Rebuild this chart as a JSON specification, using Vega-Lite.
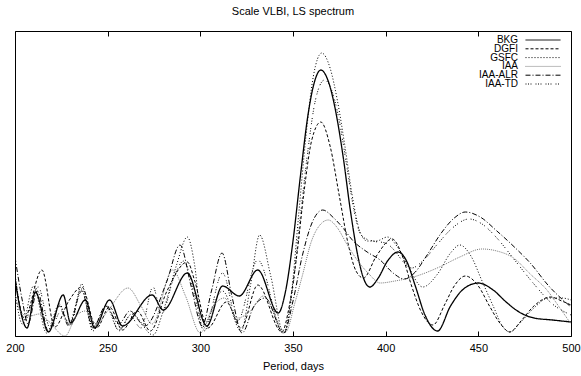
{
  "$schema": "https://vega.github.io/schema/vega-lite/v6.json",
  "width": 556,
  "height": 305,
  "autosize": "none",
  "padding": {"left": 15, "top": 31, "right": 10, "bottom": 40},
  "background": "white",
  "title": {"text": "Scale VLBI, LS spectrum", "fontSize": 11, "font": "Liberation Sans", "fontWeight": "normal", "color": "black", "offset": 14},
  "config": {"view": {"stroke": "black", "strokeWidth": 1}, "axis": {"grid": false}, "font": "Liberation Sans"},
  "datasets": {
    "s": [
      {"s":"BKG","d":200,"v":56},{"s":"BKG","d":206.5,"v":8},{"s":"BKG","d":211,"v":44},{"s":"BKG","d":218,"v":4},{"s":"BKG","d":226,"v":41},{"s":"BKG","d":230,"v":13},{"s":"BKG","d":238,"v":36},{"s":"BKG","d":243,"v":8},{"s":"BKG","d":251,"v":36},{"s":"BKG","d":258,"v":10},{"s":"BKG","d":274,"v":41},{"s":"BKG","d":280,"v":26},{"s":"BKG","d":293,"v":63},{"s":"BKG","d":303.5,"v":10},{"s":"BKG","d":312,"v":50},{"s":"BKG","d":321,"v":40},{"s":"BKG","d":331,"v":66},{"s":"BKG","d":342,"v":23},{"s":"BKG","d":346,"v":45},{"s":"BKG","d":350,"v":95},{"s":"BKG","d":354,"v":160},{"s":"BKG","d":358,"v":220},{"s":"BKG","d":361,"v":250},{"s":"BKG","d":365,"v":266},{"s":"BKG","d":369,"v":255},{"s":"BKG","d":373,"v":225},{"s":"BKG","d":377,"v":180},{"s":"BKG","d":381,"v":125},{"s":"BKG","d":385,"v":80},{"s":"BKG","d":388,"v":58},{"s":"BKG","d":391.5,"v":49},{"s":"BKG","d":396,"v":58},{"s":"BKG","d":401,"v":75},{"s":"BKG","d":406.7,"v":84},{"s":"BKG","d":411,"v":76},{"s":"BKG","d":416,"v":50},{"s":"BKG","d":421,"v":22},{"s":"BKG","d":428,"v":5},{"s":"BKG","d":435,"v":30},{"s":"BKG","d":442,"v":47},{"s":"BKG","d":450,"v":53},{"s":"BKG","d":458,"v":46},{"s":"BKG","d":465,"v":34},{"s":"BKG","d":472,"v":24},{"s":"BKG","d":480,"v":18},{"s":"BKG","d":490,"v":16},{"s":"BKG","d":500,"v":14},
      {"s":"DGFI","d":200,"v":60},{"s":"DGFI","d":205,"v":18},{"s":"DGFI","d":214.5,"v":66},{"s":"DGFI","d":221.5,"v":9},{"s":"DGFI","d":229,"v":35},{"s":"DGFI","d":236,"v":49},{"s":"DGFI","d":244,"v":8},{"s":"DGFI","d":251,"v":29},{"s":"DGFI","d":258,"v":6},{"s":"DGFI","d":266,"v":25},{"s":"DGFI","d":273,"v":5},{"s":"DGFI","d":282,"v":45},{"s":"DGFI","d":293,"v":74},{"s":"DGFI","d":297,"v":55},{"s":"DGFI","d":304,"v":8},{"s":"DGFI","d":314,"v":34},{"s":"DGFI","d":322,"v":8},{"s":"DGFI","d":331,"v":51},{"s":"DGFI","d":344,"v":4},{"s":"DGFI","d":348,"v":30},{"s":"DGFI","d":352,"v":80},{"s":"DGFI","d":356,"v":145},{"s":"DGFI","d":360,"v":195},{"s":"DGFI","d":365,"v":214},{"s":"DGFI","d":370,"v":190},{"s":"DGFI","d":375,"v":140},{"s":"DGFI","d":380,"v":90},{"s":"DGFI","d":384,"v":65},{"s":"DGFI","d":388,"v":58},{"s":"DGFI","d":395,"v":80},{"s":"DGFI","d":403.5,"v":97},{"s":"DGFI","d":409,"v":80},{"s":"DGFI","d":414,"v":50},{"s":"DGFI","d":419,"v":25},{"s":"DGFI","d":425.5,"v":11},{"s":"DGFI","d":432,"v":32},{"s":"DGFI","d":437,"v":50},{"s":"DGFI","d":443,"v":60},{"s":"DGFI","d":450,"v":50},{"s":"DGFI","d":456,"v":30},{"s":"DGFI","d":462,"v":12},{"s":"DGFI","d":467,"v":4},{"s":"DGFI","d":473,"v":15},{"s":"DGFI","d":480,"v":30},{"s":"DGFI","d":489,"v":39},{"s":"DGFI","d":495,"v":35},{"s":"DGFI","d":500,"v":31},
      {"s":"GSFC","d":200,"v":45},{"s":"GSFC","d":204,"v":12},{"s":"GSFC","d":210,"v":50},{"s":"GSFC","d":217,"v":3},{"s":"GSFC","d":224,"v":32},{"s":"GSFC","d":229,"v":12},{"s":"GSFC","d":236,"v":47},{"s":"GSFC","d":242,"v":5},{"s":"GSFC","d":249,"v":30},{"s":"GSFC","d":256,"v":6},{"s":"GSFC","d":263,"v":22},{"s":"GSFC","d":274.5,"v":1},{"s":"GSFC","d":280,"v":25},{"s":"GSFC","d":287,"v":70},{"s":"GSFC","d":293,"v":99},{"s":"GSFC","d":297,"v":70},{"s":"GSFC","d":301,"v":9},{"s":"GSFC","d":312,"v":45},{"s":"GSFC","d":322,"v":5},{"s":"GSFC","d":327,"v":50},{"s":"GSFC","d":332,"v":101},{"s":"GSFC","d":338,"v":60},{"s":"GSFC","d":345,"v":3},{"s":"GSFC","d":349,"v":40},{"s":"GSFC","d":353,"v":120},{"s":"GSFC","d":357,"v":200},{"s":"GSFC","d":361,"v":260},{"s":"GSFC","d":365.5,"v":283},{"s":"GSFC","d":370,"v":268},{"s":"GSFC","d":374,"v":235},{"s":"GSFC","d":378,"v":190},{"s":"GSFC","d":382,"v":140},{"s":"GSFC","d":386,"v":105},{"s":"GSFC","d":390,"v":95},{"s":"GSFC","d":395,"v":95},{"s":"GSFC","d":401,"v":99},{"s":"GSFC","d":406,"v":90},{"s":"GSFC","d":412,"v":70},{"s":"GSFC","d":420,"v":49},{"s":"GSFC","d":428,"v":62},{"s":"GSFC","d":435,"v":83},{"s":"GSFC","d":440,"v":91},{"s":"GSFC","d":446,"v":80},{"s":"GSFC","d":452,"v":55},{"s":"GSFC","d":458,"v":30},{"s":"GSFC","d":463,"v":10},{"s":"GSFC","d":467,"v":4},{"s":"GSFC","d":472,"v":12},{"s":"GSFC","d":480,"v":28},{"s":"GSFC","d":488,"v":38},{"s":"GSFC","d":495,"v":38},{"s":"GSFC","d":500,"v":36},
      {"s":"IAA","d":200,"v":40},{"s":"IAA","d":204,"v":22},{"s":"IAA","d":208,"v":20},{"s":"IAA","d":213,"v":22},{"s":"IAA","d":218,"v":15},{"s":"IAA","d":227,"v":0},{"s":"IAA","d":233,"v":20},{"s":"IAA","d":238,"v":25},{"s":"IAA","d":244,"v":12},{"s":"IAA","d":250,"v":25},{"s":"IAA","d":261,"v":48},{"s":"IAA","d":268,"v":30},{"s":"IAA","d":274,"v":12},{"s":"IAA","d":285,"v":66},{"s":"IAA","d":292,"v":40},{"s":"IAA","d":300,"v":3},{"s":"IAA","d":307,"v":30},{"s":"IAA","d":313,"v":38},{"s":"IAA","d":320,"v":18},{"s":"IAA","d":327,"v":25},{"s":"IAA","d":334,"v":40},{"s":"IAA","d":346,"v":4},{"s":"IAA","d":351,"v":33},{"s":"IAA","d":355,"v":60},{"s":"IAA","d":360,"v":95},{"s":"IAA","d":365,"v":112},{"s":"IAA","d":369,"v":116},{"s":"IAA","d":374,"v":108},{"s":"IAA","d":379,"v":92},{"s":"IAA","d":385,"v":75},{"s":"IAA","d":391,"v":62},{"s":"IAA","d":397,"v":53},{"s":"IAA","d":405,"v":55},{"s":"IAA","d":415,"v":59},{"s":"IAA","d":429,"v":69},{"s":"IAA","d":440,"v":79},{"s":"IAA","d":452,"v":87},{"s":"IAA","d":460,"v":85},{"s":"IAA","d":469,"v":78},{"s":"IAA","d":478,"v":62},{"s":"IAA","d":487,"v":46},{"s":"IAA","d":494,"v":28},{"s":"IAA","d":500,"v":12},
      {"s":"IAA-ALR","d":200,"v":79},{"s":"IAA-ALR","d":204,"v":35},{"s":"IAA-ALR","d":207,"v":12},{"s":"IAA-ALR","d":212,"v":45},{"s":"IAA-ALR","d":218,"v":5},{"s":"IAA-ALR","d":224,"v":30},{"s":"IAA-ALR","d":229,"v":10},{"s":"IAA-ALR","d":236,"v":45},{"s":"IAA-ALR","d":242,"v":8},{"s":"IAA-ALR","d":249,"v":30},{"s":"IAA-ALR","d":256,"v":12},{"s":"IAA-ALR","d":262,"v":25},{"s":"IAA-ALR","d":270,"v":10},{"s":"IAA-ALR","d":282,"v":55},{"s":"IAA-ALR","d":289,"v":91},{"s":"IAA-ALR","d":295,"v":50},{"s":"IAA-ALR","d":301,"v":10},{"s":"IAA-ALR","d":306,"v":45},{"s":"IAA-ALR","d":311.7,"v":83},{"s":"IAA-ALR","d":317,"v":40},{"s":"IAA-ALR","d":322.5,"v":3},{"s":"IAA-ALR","d":329,"v":30},{"s":"IAA-ALR","d":335,"v":38},{"s":"IAA-ALR","d":345,"v":3},{"s":"IAA-ALR","d":350,"v":35},{"s":"IAA-ALR","d":355,"v":80},{"s":"IAA-ALR","d":360,"v":112},{"s":"IAA-ALR","d":366,"v":126},{"s":"IAA-ALR","d":372,"v":118},{"s":"IAA-ALR","d":377,"v":108},{"s":"IAA-ALR","d":382,"v":96},{"s":"IAA-ALR","d":390,"v":84},{"s":"IAA-ALR","d":397,"v":76},{"s":"IAA-ALR","d":404,"v":63},{"s":"IAA-ALR","d":410,"v":57},{"s":"IAA-ALR","d":416,"v":64},{"s":"IAA-ALR","d":422,"v":80},{"s":"IAA-ALR","d":430,"v":103},{"s":"IAA-ALR","d":437,"v":118},{"s":"IAA-ALR","d":443,"v":124},{"s":"IAA-ALR","d":451,"v":119},{"s":"IAA-ALR","d":460,"v":105},{"s":"IAA-ALR","d":470,"v":88},{"s":"IAA-ALR","d":478,"v":73},{"s":"IAA-ALR","d":488,"v":50},{"s":"IAA-ALR","d":500,"v":29},
      {"s":"IAA-TD","d":200,"v":62},{"s":"IAA-TD","d":205,"v":15},{"s":"IAA-TD","d":212.5,"v":49},{"s":"IAA-TD","d":219,"v":8},{"s":"IAA-TD","d":225,"v":25},{"s":"IAA-TD","d":230,"v":10},{"s":"IAA-TD","d":236,"v":52},{"s":"IAA-TD","d":242,"v":10},{"s":"IAA-TD","d":250,"v":30},{"s":"IAA-TD","d":256,"v":5},{"s":"IAA-TD","d":262,"v":20},{"s":"IAA-TD","d":268,"v":8},{"s":"IAA-TD","d":274.5,"v":49},{"s":"IAA-TD","d":279,"v":22},{"s":"IAA-TD","d":286,"v":60},{"s":"IAA-TD","d":291,"v":75},{"s":"IAA-TD","d":297,"v":40},{"s":"IAA-TD","d":302,"v":5},{"s":"IAA-TD","d":312,"v":63},{"s":"IAA-TD","d":320,"v":15},{"s":"IAA-TD","d":331,"v":76},{"s":"IAA-TD","d":345,"v":2},{"s":"IAA-TD","d":350,"v":50},{"s":"IAA-TD","d":354,"v":120},{"s":"IAA-TD","d":358,"v":185},{"s":"IAA-TD","d":362,"v":235},{"s":"IAA-TD","d":367,"v":256},{"s":"IAA-TD","d":371,"v":245},{"s":"IAA-TD","d":375,"v":215},{"s":"IAA-TD","d":379,"v":170},{"s":"IAA-TD","d":383,"v":125},{"s":"IAA-TD","d":387,"v":100},{"s":"IAA-TD","d":393,"v":95},{"s":"IAA-TD","d":400,"v":93},{"s":"IAA-TD","d":405,"v":85},{"s":"IAA-TD","d":410,"v":73},{"s":"IAA-TD","d":414,"v":68},{"s":"IAA-TD","d":420,"v":75},{"s":"IAA-TD","d":428,"v":92},{"s":"IAA-TD","d":436,"v":108},{"s":"IAA-TD","d":445,"v":117},{"s":"IAA-TD","d":452,"v":112},{"s":"IAA-TD","d":460,"v":98},{"s":"IAA-TD","d":470,"v":75},{"s":"IAA-TD","d":480,"v":52},{"s":"IAA-TD","d":490,"v":32},{"s":"IAA-TD","d":500,"v":21}
    ]
  },
  "data": {"name": "s"},
  "layer": [
    {
      "mark": {"type": "line", "interpolate": "monotone", "clip": true},
      "encoding": {
        "x": {"field": "d", "type": "quantitative", "scale": {"domain": [200, 500], "nice": false, "zero": false},
              "axis": {"orient": "bottom", "values": [200, 250, 300, 350, 400, 450, 500], "tickSize": -5, "tickColor": "black", "domain": false, "labelFontSize": 11, "labelColor": "black", "labelPadding": 11, "labelFlush": false, "title": "Period, days", "titleFontSize": 11, "titleFontWeight": "normal", "titleColor": "black", "titlePadding": 7}},
        "y": {"field": "v", "type": "quantitative", "scale": {"domain": [0, 305], "nice": false}, "axis": null},
        "strokeWidth": {"condition": {"test": "datum.s === 'BKG'", "value": 1.3}, "value": 1},
        "color": {"field": "s", "type": "nominal",
                  "scale": {"domain": ["BKG", "DGFI", "GSFC", "IAA", "IAA-ALR", "IAA-TD"], "range": ["black", "black", "black", "#7a7a7a", "black", "black"]},
                  "legend": {"title": null, "orient": "none", "legendX": 523, "legendY": 4, "padding": 0, "symbolType": "M-5,0H5", "symbolSize": 49, "symbolStrokeWidth": 1, "labelAlign": "right", "labelOffset": -30, "labelFontSize": 10, "labelColor": "black", "rowPadding": -1.2, "gridAlign": "none"}},
        "strokeDash": {"field": "s", "type": "nominal",
                  "scale": {"domain": ["BKG", "DGFI", "GSFC", "IAA", "IAA-ALR", "IAA-TD"], "range": [[1, 0], [3, 2], [1, 2], [1, 1], [5, 2, 1, 2], [1, 1.5, 1, 1.5, 1, 4]]},
                  "legend": {"title": null, "orient": "none", "legendX": 523, "legendY": 4, "padding": 0, "symbolType": "M-5,0H5", "symbolSize": 49, "symbolStrokeWidth": 1, "labelAlign": "right", "labelOffset": -30, "labelFontSize": 10, "labelColor": "black", "rowPadding": -1.2, "gridAlign": "none"}}
      }
    },
    {
      "mark": {"type": "rule", "opacity": 0},
      "encoding": {
        "x": {"field": "d", "type": "quantitative", "axis": {"orient": "top", "values": [200, 250, 300, 350, 400, 450, 500], "labels": false, "title": null, "domain": false, "tickSize": -5, "tickColor": "black"}}
      }
    }
  ]
}
